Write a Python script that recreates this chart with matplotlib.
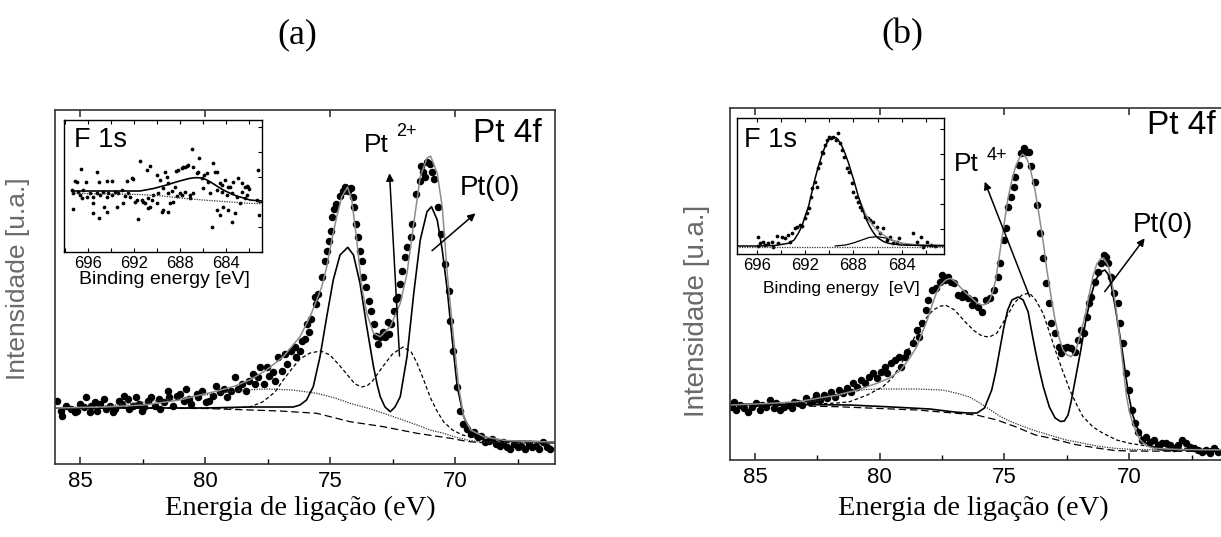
import matplotlib
matplotlib.use("Agg")
import matplotlib.pyplot as plt
from matplotlib.ticker import MultipleLocator, NullLocator

plt.rcParams['font.family'] = ['Liberation Sans', 'DejaVu Sans']

W, H = 1221, 537

# ---------------- panel (a) : Pt 4f ----------------
a_pts_e = [85.93, 85.78, 85.71, 85.57, 85.35, 85.20, 85.13, 84.99, 84.84, 84.77, 84.62, 84.55, 84.40, 84.33,
           84.19, 84.04, 83.97, 83.82, 83.68, 83.61, 83.46, 83.32, 83.24, 83.10, 83.03, 82.88, 82.76, 82.66,
           82.52, 82.45, 82.30, 82.16, 82.01, 81.86, 81.79, 81.65, 81.50, 81.43, 81.28, 81.14, 80.99, 80.85,
           80.78, 80.63, 80.56, 80.34, 80.27, 80.12, 79.98, 79.83, 79.69, 79.54, 79.40, 79.25, 79.11, 78.96,
           78.82, 78.67, 78.53, 78.38, 78.24, 78.09, 78.02, 77.87, 77.80, 77.66, 77.51, 77.44, 77.29, 77.22,
           77.08, 76.93, 76.79, 76.71, 76.57, 76.42, 76.35, 76.20, 76.13, 75.99, 75.91, 75.84, 75.77, 75.62,
           75.55, 75.48, 75.33, 75.19, 75.12, 75.04, 74.97, 74.90, 74.83, 74.75, 74.61, 74.49, 74.39, 74.28,
           74.17, 74.10, 74.03, 73.96, 73.89, 73.81, 73.74, 73.67, 73.56, 73.45, 73.37, 73.23, 73.16, 73.08,
           73.01, 72.94, 72.87, 72.79, 72.69, 72.65, 72.58, 72.43, 72.36, 72.29, 72.21, 72.14, 72.00, 71.92,
           71.78, 71.71, 71.56, 71.42, 71.37, 71.27, 71.20, 71.13, 71.01, 70.91, 70.84, 70.69, 70.55, 70.40,
           70.25, 70.18, 70.08, 69.94, 69.82, 69.67, 69.53, 69.38, 69.24, 69.09, 68.95, 68.80, 68.66, 68.51,
           68.37, 68.22, 68.08, 67.93, 67.79, 67.64, 67.50, 67.35, 67.21, 67.06, 66.92, 66.77, 66.63, 66.48,
           66.34, 66.19]
a_pts_i = [63.3, 53.3, 48.3, 58.3, 55.0, 51.7, 53.3, 60.0, 56.7, 66.7, 51.7, 58.3, 61.7, 53.3,
           60.0, 65.0, 55.0, 58.3, 51.7, 55.0, 63.3, 60.0, 68.3, 65.0, 55.0, 58.3, 66.7, 60.0,
           53.3, 56.7, 63.3, 67.3, 58.3, 65.0, 55.0, 61.7, 73.3, 66.7, 58.3, 68.3, 70.0, 63.3,
           75.0, 65.0, 60.0, 70.0, 66.7, 73.3, 61.7, 63.3, 68.3, 78.3, 71.7, 75.0, 66.7, 73.3,
           86.7, 75.0, 80.0, 73.3, 83.3, 90.0, 80.0, 86.7, 96.7, 80.0, 96.7, 88.3, 91.7, 83.3,
           106.7, 93.3, 110.0, 100.0, 113.3, 116.7, 106.7, 113.3, 123.3, 125.0, 140.0, 131.7, 145.0, 166.7,
           160.0, 170.0, 186.7, 203.3, 213.3, 223.3, 233.3, 246.7, 255.0, 260.0, 268.3, 273.3, 276.7, 273.3,
           276.0, 266.7, 256.7, 240.0, 226.7, 213.3, 203.3, 186.7, 176.7, 163.3, 153.3, 140.0, 128.3, 120.0,
           126.7, 128.3, 131.7, 126.7, 141.7, 130.0, 140.0, 153.3, 165.0, 166.7, 180.0, 193.3, 206.7, 216.7,
           226.7, 240.0, 270.0, 283.3, 298.3, 291.7, 286.7, 301.7, 300.0, 291.7, 285.0, 256.7, 230.0, 200.0,
           173.3, 143.3, 113.3, 76.7, 53.3, 40.0, 35.0, 30.0, 31.7, 26.7, 28.3, 21.7, 23.3, 25.0,
           20.0, 18.3, 21.7, 16.7, 15.0, 20.0, 16.7, 18.3, 15.0, 20.0, 16.7, 18.3, 15.0, 21.7,
           16.7, 15.0]

a_env_e = [86.0, 84.0, 82.45, 81.0, 80.2, 79.5, 78.8, 78.21, 77.54, 76.87, 76.20, 75.80, 75.53, 75.33,
           75.13, 74.93, 74.73, 74.53, 74.30, 74.13, 73.93, 73.73, 73.53, 73.26, 72.99, 72.59, 72.19,
           71.92, 71.65, 71.39, 71.12, 70.98, 70.71, 70.51, 70.31, 70.05, 69.85, 69.65, 69.38, 68.84,
           68.0, 67.0, 66.0]
a_env_i = [56, 57, 59, 64, 69, 73, 78, 84, 94, 107.3, 127.3, 147.3, 164, 177.3,
           197.3, 224, 247.3, 267.3, 277, 264, 224, 177.3, 150.7, 130.7, 127.3, 137.3, 160.7,
           190.7, 240.7, 287.3, 306, 308, 290.7, 257, 190.7, 124, 77, 47, 34, 27.3,
           23.5, 22.5, 22]
a_pt0_e = [86.0, 80.0, 78.21, 76.47, 76.2, 75.94, 75.67, 75.40, 75.13, 74.87, 74.60, 74.29, 74.06, 73.80,
           73.53, 73.26, 73.1, 72.99, 72.8, 72.59, 72.4, 72.19, 71.92, 71.65, 71.39, 71.12, 70.94, 70.71,
           70.51, 70.31, 70.11, 69.91, 69.65, 69.38, 68.84, 68.0, 66.0]
a_pt0_i = [56, 56, 57, 57, 59, 64, 77.3, 107.3, 147.3, 184, 209, 216.7, 209, 180.7,
           137.3, 97.3, 78, 67.3, 57, 52.3, 57, 67.3, 107.3, 170.7, 224, 252.3, 257.3, 244,
           214, 174, 124, 77, 47, 34, 27, 23, 22]
a_pt2_e = [86.0, 79.0, 78.21, 77.7, 77.2, 76.87, 76.47, 76.2, 75.8, 75.37, 75.0, 74.6, 74.2, 74.0,
           73.73, 73.5, 73.3, 72.9, 72.5, 72.08, 71.75, 71.52, 71.25, 70.98, 70.7, 70.45, 70.1, 69.7,
           69.0, 68.0, 66.0]
a_pt2_i = [56, 56, 57, 62, 72, 84, 97, 105, 111, 113, 109, 98, 86, 80,
           77, 78.5, 83, 97, 110, 117, 112, 101, 84, 66, 52, 42, 34, 29,
           25, 23, 22]
a_dot_e = [86.0, 84.0, 82.0, 80.0, 78.5, 77.5, 76.5, 75.53, 74.8, 74.2, 73.5, 72.86, 72.2, 71.52,
           71.0, 70.45, 70.0, 69.5, 69.0, 66.0]
a_dot_i = [56, 58, 63, 69, 74, 75, 74, 70.7, 66, 60.7, 56, 50.7, 45, 39,
           34, 30.7, 27, 24, 22, 21]
a_bg_e = [86.0, 80.0, 78.2, 77.0, 75.53, 74.2, 72.86, 71.52, 70.18, 69.5, 69.0, 66.0]
a_bg_i = [56, 55.5, 54, 53, 50.7, 42.3, 37.3, 30.7, 25.7, 22.5, 21.5, 21]

# inset (a): F 1s
ai_pts_e = [696.64, 697.13, 696.99, 696.17, 695.19, 695.04, 694.38, 693.94, 692.64, 692.17, 692.06, 691.48,
            690.90, 690.61, 690.03, 689.74, 689.30, 689.16, 689.01, 688.43, 688.35, 688.14, 687.86, 687.71,
            687.57, 687.42, 687.28, 686.99, 686.84, 686.55, 686.41, 686.32, 686.12, 685.91, 685.68, 685.54,
            685.10, 684.96, 684.81, 684.52, 684.38, 684.09, 683.80, 683.65, 683.36, 682.93, 682.64, 682.35,
            682.20, 682.06, 681.97,
            697.42, 697.28, 696.84, 696.70, 696.41, 696.12, 695.83, 695.54, 695.25, 694.96, 694.67, 694.38,
            694.23, 693.94, 693.65, 693.36, 693.07, 692.78, 692.49, 692.35, 691.91, 691.77, 691.33, 691.04,
            690.75, 690.46, 690.32, 689.88, 689.45, 689.01, 688.72, 688.29, 688.00, 687.57, 687.13, 686.84,
            685.97, 685.39, 684.81, 684.38, 683.94, 683.51, 683.07, 682.64, 682.20,
            697.28, 696.55, 695.54, 695.54, 695.01, 694.61, 694.38, 693.51, 692.93, 691.68, 691.19, 690.75,
            690.61, 690.03, 689.59, 689.45, 689.01, 688.87, 688.58, 687.86, 687.13, 685.25, 684.81, 684.52,
            684.23, 683.80, 683.51, 683.22, 682.78, 682.35, 681.18, 681.09, 681.30]
ai_pts_i = [82.7, 71.3, 70.3, 70.3, 79.7, 70.3, 71.0, 71.3, 71.3, 73.7, 72.7, 91.0,
            82.0, 86.0, 77.0, 72.0, 80.3, 75.3, 68.7, 65.3, 81.0, 82.0, 83.7, 84.7,
            85.3, 86.0, 87.0, 102.7, 85.3, 78.7, 80.3, 93.7, 73.7, 77.0, 78.7, 70.3,
            88.7, 80.3, 79.7, 68.7, 67.0, 72.0, 65.3, 65.3, 70.3, 73.7, 68.7, 65.3,
            66.0, 64.7, 62.7,
            62.0, 58.7, 60.3, 57.0, 62.0, 54.7, 59.3, 55.3, 58.7, 57.0, 60.3, 55.3,
            58.7, 57.0, 60.3, 58.7, 62.0, 56.0, 58.7, 54.7, 50.3, 52.0, 52.0, 49.3,
            53.7, 52.0, 57.0, 59.3, 63.7, 58.7, 61.3, 56.0, 58.7, 60.3, 57.0, 58.7,
            63.7, 58.7, 62.0, 60.3, 57.0, 58.7, 55.3, 60.3, 57.0,
            43.0, 53.7, 48.7, 39.3, 33.7, 45.3, 40.3, 45.3, 48.7, 33.0, 50.3, 43.7,
            45.3, 48.7, 40.3, 42.0, 40.3, 48.7, 50.3, 57.0, 53.7, 25.3, 42.0, 37.0,
            45.3, 42.0, 30.3, 38.7, 48.7, 53.7, 82.0, 37.0, 52.0]
ai_fit_e = [697.4, 691.48, 690.3, 689.16, 688.4, 687.71, 687.2, 686.7, 686.3, 685.97, 685.39, 684.8,
            684.23, 683.6, 683.07, 682.4, 681.91, 680.9]
ai_fit_i = [61, 61, 63.5, 67, 69.8, 72, 73.5, 74.3, 74.2, 73.7, 70.3, 66,
            62, 58.5, 56, 53.8, 52, 51]
ai_bg_e = [697.4, 691.5, 689.5, 687.7, 686.0, 684.0, 682.0, 680.9]
ai_bg_i = [58.7, 57.5, 56, 53.7, 52, 50.3, 48.7, 48.3]

# ---------------- panel (b) : Pt 4f ----------------
b_pts_e = [85.90, 85.83, 85.75, 85.59, 85.43, 85.27, 85.11, 84.95, 84.79, 84.71, 84.56, 84.40, 84.24, 84.16,
           84.00, 83.84, 83.68, 83.52, 83.44, 83.29, 83.13, 82.97, 82.81, 82.65, 82.57, 82.41, 82.25, 82.10,
           81.94, 81.78, 81.62, 81.46, 81.30, 81.14, 81.06, 80.90, 80.75, 80.59, 80.43, 80.27, 80.11, 79.95,
           79.79, 79.71, 79.56, 79.40, 79.24, 79.16, 79.00, 78.92, 78.68, 78.52, 78.44, 78.29, 78.13, 78.05,
           77.89, 77.73, 77.60, 77.49, 77.38, 77.25, 77.13, 77.02, 76.86, 76.70, 76.62, 76.46, 76.30, 76.22,
           76.06, 75.90, 75.75, 75.59, 75.43, 75.27, 75.16, 75.03, 74.95, 74.87, 74.75, 74.63, 74.56, 74.43,
           74.32, 74.21, 74.11, 74.00, 73.92, 73.79, 73.68, 73.57, 73.44, 73.32, 73.21, 73.13, 72.97, 72.81,
           72.73, 72.62, 72.49, 72.33, 72.17, 72.05, 71.94, 71.83, 71.70, 71.62, 71.54, 71.38, 71.25, 71.14,
           71.03, 70.94, 70.83, 70.71, 70.59, 70.46, 70.35, 70.24, 70.11, 70.00, 69.87, 69.76, 69.63, 69.48,
           69.32, 69.16, 69.00, 68.84, 68.68, 68.52, 68.37, 68.21, 68.05, 67.89, 67.73, 67.57, 67.41, 67.25,
           67.10, 66.94, 66.78, 66.62, 66.46]
b_pts_i = [53.3, 58.3, 50.0, 55.0, 51.7, 48.3, 53.3, 56.7, 50.0, 55.0, 53.3, 60.0, 51.7, 56.7,
           50.0, 53.3, 55.0, 51.7, 58.3, 56.7, 55.0, 61.7, 58.3, 60.0, 65.0, 60.0, 65.0, 61.7,
           68.3, 63.3, 70.0, 66.7, 71.7, 68.3, 76.7, 73.3, 80.0, 76.7, 83.3, 86.7, 81.7, 88.3,
           93.3, 86.7, 96.7, 100.0, 103.3, 93.3, 103.3, 108.3, 116.7, 130.0, 123.3, 136.7, 150.0, 160.0,
           170.0, 171.7, 178.3, 185.0, 180.0, 183.3, 178.3, 176.7, 165.0, 163.3, 166.7, 161.7, 155.0, 160.0,
           153.3, 148.3, 160.0, 161.7, 170.0, 183.3, 196.7, 220.0, 231.7, 253.3, 263.3, 273.3, 283.3, 295.0,
           306.7, 311.7, 308.3, 308.3, 294.0, 278.3, 255.0, 226.7, 201.7, 176.7, 156.7, 136.7, 126.7, 113.3,
           106.7, 111.7, 113.3, 111.7, 108.3, 120.0, 130.0, 126.7, 143.3, 156.7, 163.3, 178.3, 188.3, 196.7,
           205.0, 203.3, 196.7, 183.3, 166.7, 156.7, 136.7, 116.7, 86.7, 70.0, 50.0, 36.7, 28.3, 20.0,
           23.3, 18.3, 20.0, 15.0, 16.7, 16.7, 15.0, 11.7, 15.0, 20.0, 16.7, 13.3, 11.7, 10.0,
           8.3, 10.0, 6.7, 11.7, 8.3]

b_env_e = [86.0, 84.5, 83.29, 81.70, 80.9, 80.11, 79.6, 79.16, 78.85, 78.52, 78.3, 78.05, 77.9, 77.73,
           77.55, 77.35, 77.17, 76.95, 76.78, 76.55, 76.30, 76.1, 75.90, 75.72, 75.59, 75.45, 75.35, 75.2,
           75.11, 74.99, 74.87, 74.7, 74.56, 74.4, 74.27, 74.12, 74.0, 73.88, 73.76, 73.6, 73.44, 73.3,
           73.13, 72.97, 72.81, 72.65, 72.49, 72.33, 72.2, 72.10, 71.94, 71.78, 71.62, 71.46, 71.3, 71.15,
           71.03, 70.9, 70.83, 70.71, 70.59, 70.47, 70.35, 70.23, 70.11, 69.99, 69.87, 69.7, 69.56, 69.3,
           69.0, 68.0, 66.0]
b_env_i = [55, 56.5, 58.3, 65, 70, 76.7, 82, 90, 100, 113, 127, 143, 155, 167,
           175, 180, 181.7, 178, 173, 167, 161.7, 157, 155, 156, 160, 170, 180, 205,
           220, 240, 260, 280, 293, 302, 306, 302, 295, 282, 268, 243, 217, 190,
           163, 140, 122, 110, 105, 103.3, 107, 113, 127, 143, 163, 183, 196, 201,
           202, 197, 193, 180, 163, 140, 117, 90, 64, 48, 38, 27, 20, 14,
           11.7, 10.5, 10]
b_pt0_e = [86.0, 83.5, 81.2, 79.5, 78.0, 77.0, 76.5, 76.1, 75.8, 75.51, 75.35, 75.19, 75.03, 74.87,
           74.7, 74.45, 74.25, 74.05, 73.92, 73.75, 73.6, 73.44, 73.2, 72.97, 72.75, 72.6, 72.45, 72.33,
           72.15, 71.94, 71.75, 71.54, 71.35, 71.14, 70.98, 70.85, 70.72, 70.59, 70.43, 70.27, 70.13,
           70.03, 69.87, 69.71, 69.5, 69.32, 69.0, 68.68, 66.0]
b_pt0_i = [56, 55.5, 55, 53, 51, 48, 47, 47, 52, 70, 88, 110, 132, 150,
           160, 163, 160, 148, 130, 108, 90, 73, 53, 42, 38.5, 39, 45, 58,
           82, 110, 138, 163, 180, 188, 190, 186, 175, 157, 133, 108, 83,
           66, 46, 34, 23, 16.7, 12, 10, 10]
b_pt4_e = [86.0, 83.0, 81.7, 81.2, 80.5, 79.87, 79.5, 79.2, 78.85, 78.53, 78.2, 77.86, 77.55, 77.33,
           77.0, 76.75, 76.52, 76.2, 75.9, 75.6, 75.3, 74.92, 74.6, 74.3, 74.0, 73.75, 73.45, 73.2,
           72.92, 72.65, 72.38, 72.1, 71.85, 71.45, 71.05, 70.5, 69.98, 69.3, 68.5, 66.0]
b_pt4_i = [55, 55.5, 57, 58.3, 65, 73.3, 82, 93.3, 110, 126.7, 140, 150, 154, 154.5,
           150, 143, 136.7, 129, 124, 123, 127, 143, 157, 165, 167, 160, 146.7, 128,
           106.7, 88, 70, 55, 43.3, 33, 26.7, 20, 16.7, 14, 12, 11]
b_dot_e = [86.0, 84.5, 83.29, 82.3, 81.7, 81.2, 80.6, 79.87, 78.5, 77.5, 77.2, 76.8, 76.4, 76.12,
           75.8, 75.5, 75.19, 74.8, 74.4, 73.86, 73.2, 72.52, 71.8, 71.18, 70.5, 69.8, 66.0]
b_dot_i = [55, 56, 57, 60, 63.5, 68, 70.5, 71, 71, 70, 68.5, 66, 63, 59,
           54, 49, 44, 39, 35, 30, 25, 20, 16.5, 13.5, 11.5, 10.5, 10]
b_bg_e = [86.0, 84.0, 81.7, 80.0, 78.52, 77.3, 76.12, 75.3, 74.56, 73.76, 73.19, 72.17, 71.3, 70.59,
          69.98, 66.0]
b_bg_i = [55, 54.5, 53.3, 51.5, 50, 47.5, 45, 40, 33.3, 25, 22, 15.5, 12, 9.5, 9, 8.5]

# inset (b): F 1s
bi_pts_e = [695.92, 695.86, 695.72, 695.45, 695.31, 695.03, 694.76, 694.62, 694.34, 694.21, 693.93, 693.65,
            693.43, 693.24, 693.10, 692.83, 692.69, 692.41, 692.22, 692.00, 691.86, 691.67, 691.50, 691.39,
            691.17, 691.03, 690.90, 690.76, 690.62, 690.48, 690.34, 690.21, 690.01, 689.85, 689.65, 689.46,
            689.24, 689.10, 688.96, 688.74, 688.55, 688.36, 688.14, 688.00, 687.81, 687.58, 687.45, 687.25,
            687.03, 686.81, 686.62, 686.34, 686.07, 685.79, 685.51, 685.24, 684.96, 684.69, 684.41, 684.19,
            683.07, 682.75, 682.42, 682.25, 681.93, 681.60, 681.27]
bi_pts_i = [17.3, 8.0, 10.7, 12.3, 9.0, 11.3, 12.3, 7.3, 18.0, 10.7, 17.3, 15.7,
            19.0, 12.3, 20.7, 25.7, 27.3, 29.0, 28.0, 35.7, 40.7, 45.7, 57.3, 65.7,
            72.3, 67.3, 85.7, 90.7, 102.3, 100.7, 109.0, 114.0, 116.7, 115.7, 117.3, 114.0,
            121.3, 110.7, 104.0, 97.3, 85.7, 82.3, 70.7, 62.3, 57.3, 52.3, 47.3, 44.0,
            37.3, 35.7, 34.0, 32.3, 27.3, 20.7, 25.7, 14.0, 17.3, 10.7, 12.3, 15.7,
            20.7, 12.3, 17.3, 7.3, 12.3, 9.0, 8.0]
bi_fit_e = [697.5, 696.0, 694.5, 693.38, 692.9, 692.55, 692.25, 692.0, 691.7, 691.45, 691.2, 690.9,
            690.6, 690.34, 690.1, 689.93, 689.65, 689.4, 689.24, 688.95, 688.69, 688.4, 688.14, 687.85,
            687.58, 687.3, 687.03, 686.75, 686.48, 686.2, 685.93, 685.5, 685.1, 684.1, 682.0, 680.5]
bi_fit_i = [8, 8, 8.5, 10.7, 14, 20.7, 28, 37.3, 48, 60.7, 74, 87.3,
            99, 107.3, 113, 115.7, 117.3, 116, 114, 108, 100.7, 91, 80.7, 69,
            57.3, 47, 37.3, 30, 24, 19, 15.7, 12.5, 10.7, 9, 8.5, 8.5]
bi_env_e = [687.58, 687.3, 687.03, 686.75, 686.48, 686.2, 685.93, 685.5, 685.1, 684.6, 684.1, 683.0,
            681.0, 680.5]
bi_env_i = [57.3, 49, 41, 35, 30, 26, 23, 19, 16, 13, 11, 9.5, 8.5, 8.5]
bi_sub_e = [689.5, 688.65, 688.0, 687.3, 686.7, 686.03, 685.3, 684.5, 683.8, 683.07, 682.0, 680.5]
bi_sub_i = [8, 9, 11, 14, 16.5, 17.3, 16, 12.5, 10, 9, 8, 8]
bi_bg_e = [697.5, 680.5]
bi_bg_i = [7.5, 7.5]

main_ticks = [85, 80, 75, 70]
inset_ticks = [696, 692, 688, 684]


def fx(px):
    return px / W


def fy(py):
    return 1 - py / H


fig = plt.figure(figsize=(W / 100, H / 100), dpi=100)


def main_axes(rect, top_px, bot_px):
    ax = fig.add_axes(rect)
    ax.set_xlim(86, 66)
    ax.set_ylim(0, bot_px - top_px)
    ax.set_xticks(main_ticks)
    ax.xaxis.set_minor_locator(MultipleLocator(2.5))
    ax.yaxis.set_major_locator(NullLocator())
    ax.tick_params(axis='x', which='major', direction='in', length=5, width=1.1,
                   top=True, labelsize=16, pad=5, colors='#222')
    ax.tick_params(axis='x', which='minor', direction='in', length=3.5, width=1.0, top=False)
    ax.tick_params(axis='x', labelcolor='black')
    for s in ax.spines.values():
        s.set_linewidth(1.2)
        s.set_color('#333')
    return ax


def inset_axes(rect, xlim, ylim):
    ax = fig.add_axes(rect)
    ax.set_xlim(*xlim)
    ax.set_ylim(*ylim)
    ax.set_xticks(inset_ticks)
    ax.xaxis.set_minor_locator(MultipleLocator(2))
    ax.yaxis.set_major_locator(MultipleLocator(25))
    ax.tick_params(axis='x', which='both', direction='in', top=True, length=3, width=0.8,
                   labelsize=12, pad=3)
    ax.tick_params(axis='y', which='both', direction='in', left=False, right=True,
                   labelleft=False, length=3, width=0.8)
    for s in ax.spines.values():
        s.set_linewidth(1.0)
    return ax


def draw_curves(ax, env, comp_a, comp_b, dot, bg):
    ax.plot(*bg, color='black', lw=0.9, ls=(0, (6, 3)))
    ax.plot(*dot, color='#333', lw=0.9, ls=(0, (1, 1)))
    ax.plot(*comp_b, color='black', lw=0.9, ls=(0, (3, 2)))
    ax.plot(*comp_a, color='black', lw=1.2)
    ax.plot(*env, color='#8c8c8c', lw=1.1)


arrow = dict(arrowstyle='-|>', color='black', lw=1.1, mutation_scale=11, shrinkA=0, shrinkB=0)

# ---- panel (a)
ax_a = main_axes([fx(55), fy(464), 500 / W, 354 / H], 110, 464)
ax_a.plot(a_pts_e, a_pts_i, 'o', color='black', ms=5.4, mew=0)
draw_curves(ax_a, (a_env_e, a_env_i), (a_pt0_e, a_pt0_i), (a_pt2_e, a_pt2_i),
            (a_dot_e, a_dot_i), (a_bg_e, a_bg_i))
ax_a.annotate('', xy=(72.62, 290.7), xytext=(72.22, 108), arrowprops=arrow)
ax_a.annotate('', xy=(69.18, 250.7), xytext=(70.92, 213.3), arrowprops=arrow)

ia = inset_axes([fx(64.3), fy(252), (262 - 64.3) / W, 132 / H], (698.06, 680.87), (0, 132))
ia.plot(ai_pts_e, ai_pts_i, 'o', color='black', ms=2.7, mew=0)
ia.plot(ai_bg_e, ai_bg_i, color='#333', lw=0.9, ls=(0, (1, 1)))
ia.plot(ai_fit_e, ai_fit_i, color='black', lw=1.2)

# ---- panel (b)
ax_b = main_axes([fx(730), fy(460), 499 / W, 352 / H], 108, 460)
ax_b.plot(b_pts_e, b_pts_i, 'o', color='black', ms=5.4, mew=0)
draw_curves(ax_b, (b_env_e, b_env_i), (b_pt0_e, b_pt0_i), (b_pt4_e, b_pt4_i),
            (b_dot_e, b_dot_i), (b_bg_e, b_bg_i))
ax_b.annotate('', xy=(75.79, 278.3), xytext=(73.99, 163.3), arrowprops=arrow)
ax_b.annotate('', xy=(69.38, 221.7), xytext=(70.98, 168.3), arrowprops=arrow)

ib = inset_axes([fx(737.3), fy(254), (944 - 737.3) / W, 135.7 / H], (697.6, 680.5), (0, 135.7))
ib.plot(bi_pts_e, bi_pts_i, 'o', color='black', ms=2.7, mew=0)
ib.plot(bi_bg_e, bi_bg_i, color='#333', lw=0.9, ls=(0, (1, 1)))
ib.plot(bi_sub_e, bi_sub_i, color='black', lw=0.9)
ib.plot(bi_env_e, bi_env_i, color='#8c8c8c', lw=1.0)
ib.plot(bi_fit_e, bi_fit_i, color='black', lw=1.1)

# ---- texts
serif = ['Liberation Serif', 'DejaVu Serif']
fig.text(fx(297), fy(35), '(a)', fontsize=26, family=serif, ha='center', va='center')
fig.text(fx(902), fy(35), '(b)', fontsize=26, family=serif, ha='center', va='center')
fig.text(fx(300), fy(508), 'Energia de ligação (eV)', fontsize=20.5, family=serif, ha='center', va='center')
fig.text(fx(973), fy(508), 'Energia de ligação (eV)', fontsize=20.5, family=serif, ha='center', va='center')
fig.text(fx(18.5), fy(278.5), 'Intensidade [u.a.]', fontsize=19, color='#6a6a6a',
         rotation=90, ha='center', va='center')
fig.text(fx(697), fy(311), 'Intensidade [u.a.]', fontsize=20, color='#6a6a6a',
         rotation=90, ha='center', va='center')

fig.text(fx(507), fy(134), 'Pt 4f', fontsize=24, ha='center', va='center')
fig.text(fx(1181), fy(125), 'Pt 4f', fontsize=24, ha='center', va='center')
fig.text(fx(376), fy(145), 'Pt', fontsize=19, ha='center', va='center')
fig.text(fx(406), fy(132), '2+', fontsize=13, ha='center', va='center')
fig.text(fx(490), fy(188), 'Pt(0)', fontsize=20, ha='center', va='center')
fig.text(fx(966), fy(164), 'Pt', fontsize=19, ha='center', va='center')
fig.text(fx(997), fy(155), '4+', fontsize=13, ha='center', va='center')
fig.text(fx(1163), fy(225), 'Pt(0)', fontsize=20, ha='center', va='center')

fig.text(fx(100), fy(140), 'F 1s', fontsize=19.5, ha='center', va='center')
fig.text(fx(771), fy(140), 'F 1s', fontsize=19.5, ha='center', va='center')
fig.text(fx(164), fy(280), 'Binding energy [eV]', fontsize=14, ha='center', va='center')
fig.text(fx(841), fy(288), 'Binding energy  [eV]', fontsize=12.5, ha='center', va='center')

fig.savefig('out.png', dpi=100)
